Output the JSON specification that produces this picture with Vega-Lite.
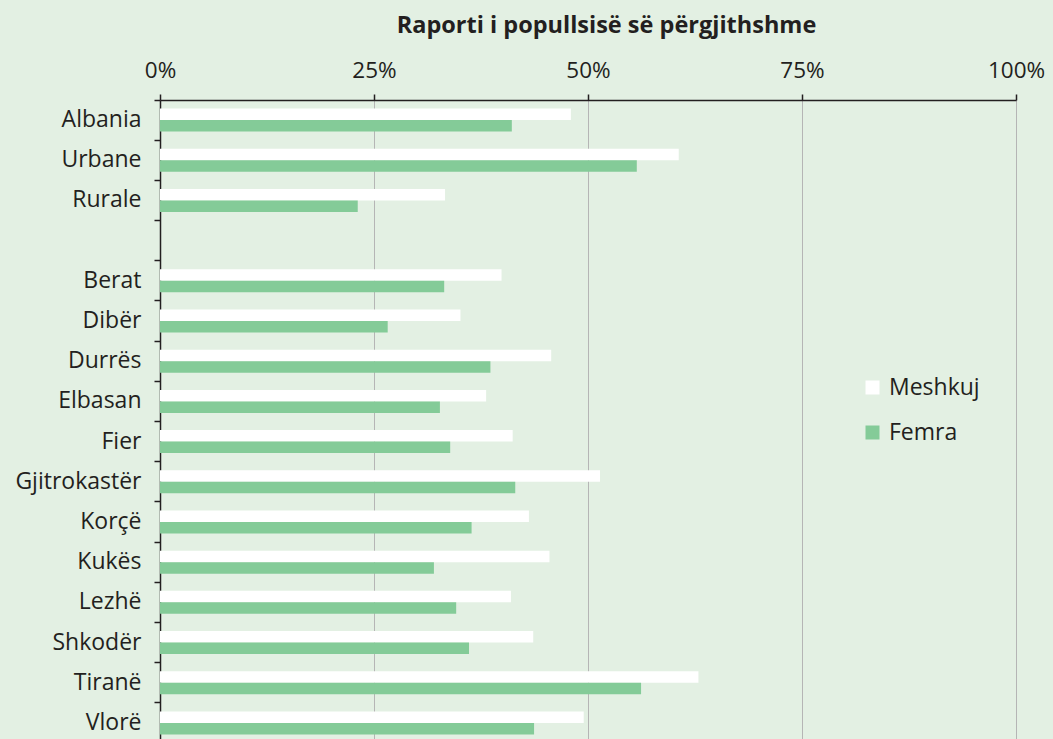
{
  "$schema": "https://vega.github.io/schema/vega-lite/v6.json",
  "autosize": "none",
  "width": 856,
  "height": 643,
  "padding": {"left": 160, "top": 100, "right": 37, "bottom": 0},
  "background": "#e3f0e3",
  "config": {
    "view": {"stroke": null},
    "font": "Open Sans",
    "axis": {"labelColor": "#231f20", "titleColor": "#231f20"}
  },
  "data": {
    "values": [
      {"region": "Albania", "gender": "Meshkuj", "value": 0.480},
      {"region": "Albania", "gender": "Femra", "value": 0.411},
      {"region": "Urbane", "gender": "Meshkuj", "value": 0.606},
      {"region": "Urbane", "gender": "Femra", "value": 0.557},
      {"region": "Rurale", "gender": "Meshkuj", "value": 0.333},
      {"region": "Rurale", "gender": "Femra", "value": 0.231},
      {"region": "Berat", "gender": "Meshkuj", "value": 0.399},
      {"region": "Berat", "gender": "Femra", "value": 0.332},
      {"region": "Dibër", "gender": "Meshkuj", "value": 0.351},
      {"region": "Dibër", "gender": "Femra", "value": 0.266},
      {"region": "Durrës", "gender": "Meshkuj", "value": 0.457},
      {"region": "Durrës", "gender": "Femra", "value": 0.386},
      {"region": "Elbasan", "gender": "Meshkuj", "value": 0.381},
      {"region": "Elbasan", "gender": "Femra", "value": 0.327},
      {"region": "Fier", "gender": "Meshkuj", "value": 0.412},
      {"region": "Fier", "gender": "Femra", "value": 0.339},
      {"region": "Gjitrokastër", "gender": "Meshkuj", "value": 0.514},
      {"region": "Gjitrokastër", "gender": "Femra", "value": 0.415},
      {"region": "Korçë", "gender": "Meshkuj", "value": 0.431},
      {"region": "Korçë", "gender": "Femra", "value": 0.364},
      {"region": "Kukës", "gender": "Meshkuj", "value": 0.455},
      {"region": "Kukës", "gender": "Femra", "value": 0.320},
      {"region": "Lezhë", "gender": "Meshkuj", "value": 0.410},
      {"region": "Lezhë", "gender": "Femra", "value": 0.346},
      {"region": "Shkodër", "gender": "Meshkuj", "value": 0.436},
      {"region": "Shkodër", "gender": "Femra", "value": 0.361},
      {"region": "Tiranë", "gender": "Meshkuj", "value": 0.629},
      {"region": "Tiranë", "gender": "Femra", "value": 0.562},
      {"region": "Vlorë", "gender": "Meshkuj", "value": 0.495},
      {"region": "Vlorë", "gender": "Femra", "value": 0.437}
    ]
  },
  "mark": {"type": "bar"},
  "encoding": {
    "y": {
      "field": "region",
      "type": "nominal",
      "scale": {
        "domain": ["Albania", "Urbane", "Rurale", " ", "Berat", "Dibër", "Durrës", "Elbasan", "Fier", "Gjitrokastër", "Korçë", "Kukës", "Lezhë", "Shkodër", "Tiranë", "Vlorë"],
        "paddingInner": 0,
        "paddingOuter": 0
      },
      "axis": {
        "title": null,
        "bandPosition": 0,
        "domainColor": "#231f20",
        "domainWidth": 1.5,
        "tickColor": "#231f20",
        "tickWidth": 1.5,
        "tickSize": 6,
        "labelFontSize": 23,
        "labelPadding": 13,
        "grid": false
      }
    },
    "yOffset": {
      "field": "gender",
      "type": "nominal",
      "sort": ["Meshkuj", "Femra"],
      "scale": {"paddingInner": 0, "paddingOuter": 0.75}
    },
    "x": {
      "field": "value",
      "type": "quantitative",
      "scale": {"domain": [0, 1], "nice": false},
      "axis": {
        "orient": "top",
        "values": [0, 0.25, 0.5, 0.75, 1],
        "format": ".0%",
        "title": "Raporti i popullsisë së përgjithshme",
        "titleFontSize": 23.5,
        "titleFontWeight": "bold",
        "titleX": 446,
        "titleY": -68,
        "titleBaseline": "alphabetic",
        "titleAlign": "center",
        "titleAnchor": null,
        "labelFontSize": 22.5,
        "labelFontWeight": "normal",
        "labelPadding": 12,
        "labelFlush": false,
        "domainColor": "#231f20",
        "domainWidth": 1.5,
        "tickColor": "#231f20",
        "tickWidth": 1.5,
        "tickSize": 6,
        "grid": true,
        "gridColor": "#b5b5b5",
        "gridWidth": 1
      }
    },
    "color": {
      "field": "gender",
      "type": "nominal",
      "scale": {"domain": ["Meshkuj", "Femra"], "range": ["#ffffff", "#84cb98"]},
      "legend": {
        "title": null,
        "orient": "none",
        "legendX": 701,
        "legendY": 276,
        "symbolType": "square",
        "symbolSize": 196,
        "symbolStrokeWidth": 0,
        "symbolOpacity": 1,
        "labelFontSize": 23,
        "labelColor": "#231f20",
        "labelOffset": 5,
        "rowPadding": 21
      }
    }
  }
}
